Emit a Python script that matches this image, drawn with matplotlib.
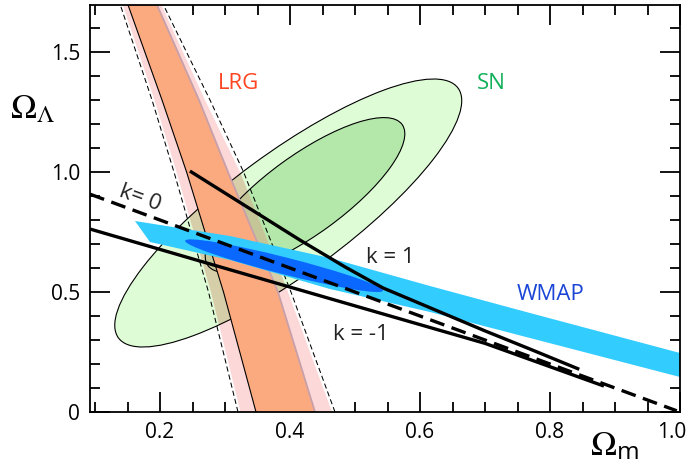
import matplotlib
matplotlib.use('Agg')
import matplotlib.pyplot as plt
from matplotlib.patches import Ellipse, Polygon
from matplotlib.transforms import Affine2D, ScaledTranslation
from matplotlib.ticker import MultipleLocator

# ---------------- data ----------------
x_lim = (0.0923, 1.0)
y_lim = (0.0, 1.696)
x_ticks = [0.2, 0.4, 0.6, 0.8, 1.0]
x_tick_labels = ['0.2', '0.4', '0.6', '0.8', '1.0']
y_ticks = [0.0, 0.5, 1.0, 1.5]
y_tick_labels = ['0', '0.5', '1.0', '1.5']

# LRG band: Omega_m of the edges at given Omega_Lambda levels
lrg_levels = [0.0, 0.5, 1.0, 1.3, 1.7]
lrg_inner_left = [0.3477, 0.2977, 0.2409, 0.2031, 0.1503]
lrg_inner_right = [0.4385, 0.3815, 0.3046, 0.2600, 0.1948]
lrg_outer_left = [0.3238, 0.2785, 0.2254, 0.1915, 0.1423]
lrg_outer_right = [0.4646, 0.3969, 0.3231, 0.2692, 0.2015]
lrg_dash_left = [0.3200, 0.2746, 0.2215, 0.1877, 0.1385]
lrg_dash_right = [0.4692, 0.4015, 0.3286, 0.2769, 0.2046]

# SN contours: centre (Om, OL), full axes in plot-pixel units, angle (deg)
sn_outer = dict(om=0.3973, ol=0.8292, w=421.6, h=120.4, ang=36.35)
sn_inner = dict(om=0.4231, ol=0.9042, w=240.0, h=79.0, ang=36.0)

# WMAP band and its inner contour
wmap_top_om = [0.1615, 0.3077, 0.4615, 0.6154, 0.7692, 1.0]
wmap_top_ol = [0.7958, 0.7333, 0.6417, 0.5250, 0.4125, 0.2458]
wmap_bot_om = [0.1846, 0.3077, 0.4615, 0.6154, 0.7692, 1.0]
wmap_bot_ol = [0.7083, 0.6333, 0.5125, 0.4167, 0.3083, 0.1458]
wmap_inner = dict(om=0.3908, ol=0.6096, w=204.0, h=17.0, ang=-14.2)

# curvature lines
k0_om = [0.0923, 0.995]
k0_ol = [0.9077, 0.005]
k1_om = [0.246, 0.415, 0.485, 0.543, 0.700, 0.769, 0.845]
k1_ol = [1.004, 0.717, 0.604, 0.517, 0.338, 0.2625, 0.178]
km1_om = [0.0923, 0.2615, 0.485, 0.700, 0.883]
km1_ol = [0.7625, 0.629, 0.454, 0.286, 0.108]

# text labels
label_texts = ['LRG', 'SN', 'WMAP', 'k = 1', 'k = -1']
label_om = [0.320, 0.710, 0.801, 0.554, 0.509]
label_ol = [1.345, 1.345, 0.467, 0.619, 0.300]
label_colors = ['#FF4422', '#10B05A', '#1A45D6', '#222222', '#222222']
k0_label = 'k= 0'
k0_label_pos = (0.170, 0.890)

# ---------------- style ----------------
plt.rcParams['font.family'] = ['Open Sans', 'DejaVu Sans']
plt.rcParams['mathtext.fontset'] = 'stix'

W, H = 689, 469
fig = plt.figure(figsize=(W / 100, H / 100), dpi=100)
ax = fig.add_axes([90 / W, 57 / H, 590 / W, 407 / H])
ax.set_xlim(*x_lim)
ax.set_ylim(*y_lim)

# transform for ellipses defined in plot-pixel-like units
PXX, PXY = 650.0, 240.0
etr = Affine2D().scale(1 / PXX, 1 / PXY) + ax.transData


def make_ellipse(e, **kw):
    return Ellipse((e['om'] * PXX, e['ol'] * PXY), e['w'], e['h'],
                   angle=e['ang'], transform=etr, **kw)


# SN fills
sn_o_fill = make_ellipse(sn_outer, facecolor='#DEFCD6', edgecolor='none', zorder=1)
sn_i_fill = make_ellipse(sn_inner, facecolor='#B3E8AA', edgecolor='none', zorder=1.1)
ax.add_patch(sn_o_fill)
ax.add_patch(sn_i_fill)

# LRG outer band (pink) + tinted copies where it overlaps SN contours
outer_poly = list(zip(lrg_outer_left, lrg_levels)) + \
    list(zip(lrg_outer_right[::-1], lrg_levels[::-1]))
ax.add_patch(Polygon(outer_poly, closed=True, facecolor='#FDD8D8',
                     edgecolor='none', zorder=2))
p2 = Polygon(outer_poly, closed=True, facecolor='#D6CEA8', edgecolor='none', zorder=2.1)
ax.add_patch(p2)
p2.set_clip_path(sn_o_fill)
p3 = Polygon(outer_poly, closed=True, facecolor='#C4C698', edgecolor='none', zorder=2.2)
ax.add_patch(p3)
p3.set_clip_path(sn_i_fill)

# SN outlines
ax.add_patch(make_ellipse(sn_outer, facecolor='none', edgecolor='black', lw=0.8, zorder=3))
ax.add_patch(make_ellipse(sn_inner, facecolor='none', edgecolor='black', lw=0.8, zorder=3))

# LRG inner band (orange)
inner_poly = list(zip(lrg_inner_left, lrg_levels)) + \
    list(zip(lrg_inner_right[::-1], lrg_levels[::-1]))
ax.add_patch(Polygon(inner_poly, closed=True, facecolor='#FBAA80',
                     edgecolor='none', zorder=4))
ax.plot(lrg_inner_left, lrg_levels, color='black', lw=0.8, zorder=4.1)
ax.plot(lrg_inner_right, lrg_levels, color='#C8A0AA', lw=1.3, zorder=4.1)
for xs in (lrg_dash_left, lrg_dash_right):
    ax.plot(xs, lrg_levels, color='black', lw=0.75, dashes=(5, 3), zorder=4.2)

# WMAP
wmap_poly = list(zip(wmap_top_om, wmap_top_ol)) + \
    list(zip(wmap_bot_om[::-1], wmap_bot_ol[::-1]))
ax.add_patch(Polygon(wmap_poly, closed=True, facecolor='#33CCFF',
                     edgecolor='none', zorder=5))
ax.add_patch(make_ellipse(wmap_inner, facecolor='#0A68FF', edgecolor='none', zorder=5.1))

# curvature lines
ax.plot(k0_om, k0_ol, color='black', lw=2.4, dashes=(4.5, 2.3), zorder=6)
ax.plot(k1_om, k1_ol, color='black', lw=2.4, zorder=6, solid_capstyle='butt')
ax.plot(km1_om, km1_ol, color='black', lw=2.4, zorder=6, solid_capstyle='butt')

# labels
for t, x, y, c in zip(label_texts, label_om, label_ol, label_colors):
    ax.text(x, y, t, color=c, fontsize=16, ha='center', va='baseline', zorder=7)
ax.text(k0_label_pos[0], k0_label_pos[1], k0_label, color='#222222', fontsize=16,
        ha='center', va='center', rotation=-20, rotation_mode='anchor', zorder=7)

# axis titles
ax.text(-0.1356, 0.7224, r'$\Omega_\Lambda$', transform=ax.transAxes,
        fontsize=25, ha='left', va='baseline')
ax.text(0.847, -0.1057, r'$\Omega_\mathregular{m}$', transform=ax.transAxes,
        fontsize=25, ha='left', va='baseline')

# ticks
ax.set_xticks(x_ticks)
ax.set_xticklabels(x_tick_labels)
ax.set_yticks(y_ticks)
ax.set_yticklabels(y_tick_labels)
ax.xaxis.set_minor_locator(MultipleLocator(0.05))
ax.yaxis.set_minor_locator(MultipleLocator(0.1))
ax.tick_params(which='both', direction='in', top=True, right=True,
               width=1.3, labelsize=15, colors='black')
ax.tick_params(which='major', length=14.5)
ax.tick_params(which='minor', length=7.5)
ax.tick_params(axis='x', which='major', pad=7.5)
ax.tick_params(axis='y', which='major', pad=7)
for s in ax.spines.values():
    s.set_linewidth(1.3)
    s.set_zorder(10)

lbl = ax.xaxis.get_major_ticks()[-1].label1
lbl.set_transform(lbl.get_transform() + ScaledTranslation(-0.08, 0, fig.dpi_scale_trans))

fig.savefig('out.png', dpi=100)
